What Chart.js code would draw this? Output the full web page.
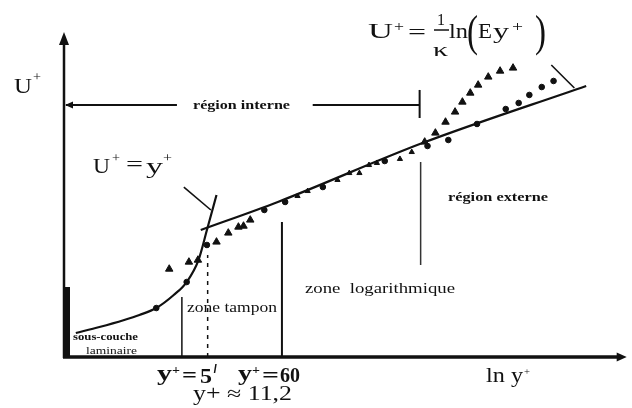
<!DOCTYPE html>
<html><head><meta charset="utf-8">
<style>html,body{margin:0;padding:0;background:#fff}#wrap{width:632px;height:408px}</style>
</head><body><div id="wrap"><canvas id="c" width="632" height="408"></canvas></div>
<script src="https://cdn.jsdelivr.net/npm/chart.js@4.4.1/dist/chart.umd.min.js"></script>
<script>
// ---- data (x = ln y+ in sketch units, U = U+) ----
const viscousX = [0.21, 0.63, 1.07, 1.34, 1.64, 1.95, 2.18, 2.39, 2.54, 2.71];
const viscousU = [2.22, 2.77, 3.42, 3.88, 4.52, 5.72, 6.92, 8.95, 11.72, 14.95];
const logLawX = [2.43, 3.80, 6.37, 9.28];
const logLawU = [11.72, 14.31, 19.75, 25.02];
const triX = [1.87, 2.22, 2.38, 2.71, 2.92, 3.10, 3.19, 3.31,
              4.15, 4.33, 4.86, 5.07, 5.25, 5.42, 5.56, 5.97, 6.18,
              6.41, 6.60, 6.78, 6.95, 7.08, 7.22, 7.36, 7.54, 7.75, 7.98];
const triU = [8.12, 8.77, 8.95, 10.62, 11.45, 12.00, 12.09, 12.65,
              14.86, 15.32, 16.34, 16.98, 16.98, 17.72, 17.91, 18.28, 18.92,
              19.85, 20.68, 21.69, 22.62, 23.54, 24.37, 25.11, 25.85, 26.40, 26.68];
const dotX = [1.64, 2.18, 2.54, 3.56, 3.93, 4.60, 5.70, 6.46, 6.83, 7.34, 7.85, 8.08, 8.27, 8.49, 8.70];
const dotU = [4.52, 6.92, 10.34, 13.57, 14.31, 15.69, 18.09, 19.48, 20.03, 21.51, 22.89, 23.45, 24.19, 24.92, 25.48];
// zone boundaries: y+=5, y+=11.2, y+=60, inner/outer region
const boundaryX = [2.095, 2.553, 3.873, 6.338];
const boundaryLow = [0, 0, 0, 8.49];
const boundaryHigh = [5.54, 9.42, 12.46, 18.0];
const leaderViscX = [2.13, 2.61], leaderViscU = [15.69, 13.57];
const leaderLogX = [8.66, 9.07], leaderLogU = [26.95, 24.83];
const interneU = 23.26, interneEnds = [0, 2.007, 4.42, 6.32], interneTick = [22.06, 24.65];
const laminarBarU = 6.46;
const regionLabels = ['région interne', 'région externe'];
const zoneLabels = ['sous-couche', 'laminaire', 'zone tampon', 'zone  logarithmique'];
const tickLabels = ['5', '60', 'y+ ≈ 11,2'];
const axisLabels = ['U', 'ln y'];

const pts = (xa, ya) => xa.map((x, i) => ({x, y: ya[i]}));
const INK = '#111';
const FONT = '"Liberation Serif", "DejaVu Serif", serif';

const datasets = [
  {data: pts(viscousX, viscousU), showLine: true, borderColor: INK, borderWidth: 2.2, pointRadius: 0, cubicInterpolationMode: 'monotone'},
  {data: pts(logLawX, logLawU), showLine: true, borderColor: INK, borderWidth: 2.2, pointRadius: 0, cubicInterpolationMode: 'monotone'},
  {data: pts(triX, triU), showLine: false, pointStyle: 'triangle', backgroundColor: INK, borderColor: INK, borderWidth: 1,
   pointRadius: c => (c.parsed && c.parsed.x > 3.9 && c.parsed.x < 6.3) ? 3 : 4.3},
  {data: pts(dotX, dotU), showLine: false, pointStyle: 'circle', backgroundColor: INK, borderColor: INK, borderWidth: 1, pointRadius: 2.8},
  {data: pts(leaderViscX, leaderViscU), showLine: true, borderColor: INK, borderWidth: 1.6, pointRadius: 0},
  {data: pts(leaderLogX, leaderLogU), showLine: true, borderColor: INK, borderWidth: 1.6, pointRadius: 0}
];
boundaryX.forEach((bx, i) => {
  datasets.push({data: [{x: bx, y: boundaryLow[i]}, {x: bx, y: boundaryHigh[i]}], showLine: true,
    borderColor: i === 3 ? '#333' : INK, borderWidth: i === 2 ? 2 : 1.5, pointRadius: 0,
    borderDash: i === 1 ? [4, 5] : []});
});

function g(ctx, s, left, base, size, width, weight) {
  ctx.save();
  ctx.font = (weight || '') + ' ' + size + 'px ' + FONT;
  ctx.textBaseline = 'alphabetic';
  ctx.textAlign = 'left';
  const w = ctx.measureText(s).width;
  ctx.translate(left, base);
  ctx.scale(width ? width / w : 1, 1);
  ctx.fillText(s, 0, 0);
  ctx.restore();
}

const decor = {
  id: 'decor',
  beforeDraw(chart) {
    const ctx = chart.ctx;
    ctx.save(); ctx.fillStyle = '#fff'; ctx.fillRect(0, 0, chart.width, chart.height); ctx.restore();
  },
  afterDraw(chart) {
    const ctx = chart.ctx, xs = chart.scales.x, ys = chart.scales.y;
    const X = v => xs.getPixelForValue(v), Y = v => ys.getPixelForValue(v);
    ctx.save();
    ctx.strokeStyle = INK; ctx.fillStyle = INK;
    // y axis
    const x0 = X(0), y0 = Y(0), yTop = Y(ys.max), xRight = X(xs.max);
    ctx.lineWidth = 2.5;
    ctx.beginPath(); ctx.moveTo(x0, y0 + 1); ctx.lineTo(x0, yTop + 10); ctx.stroke();
    ctx.beginPath(); ctx.moveTo(x0, yTop); ctx.lineTo(x0 - 5, yTop + 13); ctx.lineTo(x0 + 5, yTop + 13); ctx.closePath(); ctx.fill();
    // x axis
    ctx.lineWidth = 3.5;
    ctx.beginPath(); ctx.moveTo(x0 - 1, y0); ctx.lineTo(xRight - 8, y0); ctx.stroke();
    ctx.beginPath(); ctx.moveTo(xRight, y0); ctx.lineTo(xRight - 10, y0 - 4.5); ctx.lineTo(xRight - 10, y0 + 4.5); ctx.closePath(); ctx.fill();
    // laminar thick bar
    ctx.fillRect(x0 + 1, Y(laminarBarU), 5, y0 - Y(laminarBarU));
    // région interne arrow
    ctx.lineWidth = 1.8;
    const yi = Y(interneU);
    ctx.beginPath(); ctx.moveTo(X(interneEnds[0]) + 2, yi); ctx.lineTo(X(interneEnds[1]), yi);
    ctx.moveTo(X(interneEnds[2]), yi); ctx.lineTo(X(interneEnds[3]), yi); ctx.stroke();
    ctx.beginPath(); ctx.moveTo(X(interneEnds[0]) + 1, yi); ctx.lineTo(X(interneEnds[0]) + 9, yi - 3.5); ctx.lineTo(X(interneEnds[0]) + 9, yi + 3.5); ctx.closePath(); ctx.fill();
    ctx.lineWidth = 2;
    ctx.beginPath(); ctx.moveTo(X(interneEnds[3]), Y(interneTick[0])); ctx.lineTo(X(interneEnds[3]), Y(interneTick[1])); ctx.stroke();

    // axis labels
    g(ctx, axisLabels[0], 14, 93, 22, 18);
    g(ctx, '+', 33, 81, 13, 8);
    g(ctx, axisLabels[1], 486, 382, 22, 37);
    g(ctx, '+', 524, 375, 11, 6);
    // U+ = y+
    g(ctx, 'U', 93, 173, 22, 17);
    g(ctx, '+', 112, 162, 13, 8);
    g(ctx, '=', 126, 171, 22, 17);
    g(ctx, 'y', 146, 173, 22, 17);
    g(ctx, '+', 163, 162, 13, 9);
    // log law formula
    g(ctx, 'U', 368, 38, 22, 25);
    g(ctx, '+', 394, 31, 14, 10);
    g(ctx, '=', 408, 39, 22, 18);
    g(ctx, '1', 437, 25, 16, 8);
    ctx.lineWidth = 1.5;
    ctx.beginPath(); ctx.moveTo(434, 30); ctx.lineTo(449, 30); ctx.stroke();
    g(ctx, 'κ', 433, 56, 18, 15);
    g(ctx, 'ln', 449, 38, 22, 19);
    g(ctx, '(', 467, 46, 44, 11);
    g(ctx, 'E', 478, 38, 20, 14);
    g(ctx, 'y', 493, 38, 22, 16);
    g(ctx, '+', 512, 31, 14, 11);
    g(ctx, ')', 535, 46, 44, 11);
    // region / zone labels
    g(ctx, regionLabels[0], 193, 109, 13, 97, 'bold');
    g(ctx, regionLabels[1], 448, 201, 13, 100, 'bold');
    g(ctx, zoneLabels[0], 73, 340, 10, 65, 'bold');
    g(ctx, zoneLabels[1], 86, 354, 10, 51);
    g(ctx, zoneLabels[2], 187, 312, 15, 90);
    g(ctx, zoneLabels[3], 305, 293, 14, 150);
    // tick labels
    g(ctx, 'y', 157, 380, 20, 15, 'bold');
    g(ctx, '+', 172, 374, 13, 8, 'bold');
    g(ctx, '=', 182, 382, 20, 15, 'bold');
    g(ctx, tickLabels[0], 200, 383, 20, 12, 'bold');
    ctx.lineWidth = 1.5;
    ctx.beginPath(); ctx.moveTo(216, 364); ctx.lineTo(214.5, 373); ctx.stroke();
    g(ctx, 'y', 238, 380, 20, 14, 'bold');
    g(ctx, '+', 252, 374, 13, 8, 'bold');
    g(ctx, '=', 262, 382, 20, 17, 'bold');
    g(ctx, tickLabels[1], 280, 382, 20, 20, 'bold');
    g(ctx, tickLabels[2], 193, 400, 20, 99);
    ctx.restore();
  }
};

new Chart(document.getElementById('c'), {
  type: 'scatter',
  data: {datasets},
  options: {
    responsive: false, animation: false, devicePixelRatio: 1,
    layout: {padding: {left: 64, right: 0, top: 32, bottom: 51}},
    plugins: {legend: {display: false}, tooltip: {enabled: false}},
    scales: {
      x: {type: 'linear', min: 0, max: 10, display: false},
      y: {type: 'linear', min: 0, max: 30, display: false}
    }
  },
  plugins: [decor]
});
</script>
</body></html>
